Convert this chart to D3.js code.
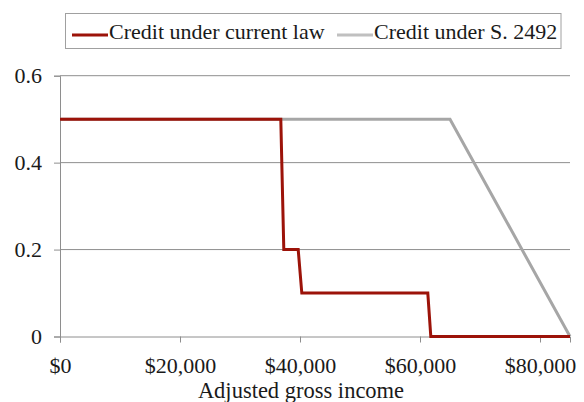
<!DOCTYPE html>
<html>
<head>
<meta charset="utf-8">
<script src="https://d3js.org/d3.v7.min.js"></script>
<style>
  body { margin: 0; background: #fff; }
  text { font-family: "Liberation Serif", "DejaVu Serif", serif; fill: #1a1a1a; }
</style>
</head>
<body>
<div id="chart"></div>
<script>
// data
var currentIncome = [0, 36800, 37300, 39700, 40300, 61300, 61800, 85000];
var currentCredit = [0.5, 0.5, 0.2, 0.2, 0.1, 0.1, 0, 0];
var billIncome = [0, 65000, 85000];
var billCredit = [0.5, 0.5, 0];
var xTicks = [0, 20000, 40000, 60000, 80000];
var yTicks = [0, 0.2, 0.4, 0.6];
var seriesNames = ["Credit under current law", "Credit under S. 2492"];

var width = 584, height = 402;
var margin = { top: 75.7, right: 14, bottom: 65.5, left: 60 };

var svg = d3.select("#chart").append("svg")
  .attr("width", width)
  .attr("height", height);

var x = d3.scaleLinear()
  .domain([0, 85000])
  .range([margin.left, width - margin.right]);

var y = d3.scaleLinear()
  .domain([0, 0.6])
  .range([height - margin.bottom, margin.top]);

// gridlines
svg.append("g")
  .selectAll("line")
  .data(yTicks.filter(function (d) { return d > 0; }))
  .enter()
  .append("line")
  .attr("x1", x(0))
  .attr("x2", x(85000))
  .attr("y1", function (d) { return y(d); })
  .attr("y2", function (d) { return y(d); })
  .attr("stroke", "#8e8e8e")
  .attr("stroke-width", 1);

// y axis
var yAxis = svg.append("g")
  .attr("transform", "translate(" + x(0) + ",0)")
  .call(d3.axisLeft(y).tickValues(yTicks).tickSize(6).tickPadding(12)
    .tickFormat(function (d) { return d === 0 ? "0" : d3.format(".1f")(d); }));
yAxis.select(".domain").attr("stroke", "#8e8e8e");
yAxis.selectAll(".tick line").attr("stroke", "#8e8e8e");
yAxis.selectAll("text").style("font-size", "22px").attr("fill", "#1a1a1a");

// x axis
var xAxis = svg.append("g")
  .attr("transform", "translate(0," + y(0) + ")")
  .call(d3.axisBottom(x).tickValues(xTicks).tickSize(6).tickPadding(15)
    .tickFormat(function (d) { return "$" + d3.format(",")(d); }));
xAxis.select(".domain").attr("stroke", "#8e8e8e");
xAxis.selectAll(".tick line").attr("stroke", "#8e8e8e");
xAxis.selectAll("text").style("font-size", "22px").attr("fill", "#1a1a1a");

svg.append("text")
  .attr("x", 301)
  .attr("y", 398)
  .attr("text-anchor", "middle")
  .style("font-size", "22.5px")
  .text("Adjusted gross income");

// lines
var line = d3.line()
  .x(function (d) { return x(d[0]); })
  .y(function (d) { return y(d[1]); });

svg.append("path")
  .datum(d3.zip(billIncome, billCredit))
  .attr("fill", "none")
  .attr("stroke", "#a6a6a6")
  .attr("stroke-width", 3)
  .attr("d", line);

svg.append("path")
  .datum(d3.zip(currentIncome, currentCredit))
  .attr("fill", "none")
  .attr("stroke", "#9c1309")
  .attr("stroke-width", 3)
  .attr("d", line);

// legend
var legend = svg.append("g");
legend.append("rect")
  .attr("x", 65.5)
  .attr("y", 13.5)
  .attr("width", 495.5)
  .attr("height", 35)
  .attr("fill", "#fff")
  .attr("stroke", "#a0a0a0");

var legendItems = [
  { name: seriesNames[0], color: "#9c1309", x: 72 },
  { name: seriesNames[1], color: "#c0c0c0", x: 337 }
];
legendItems.forEach(function (d) {
  legend.append("line")
    .attr("x1", d.x).attr("x2", d.x + 36)
    .attr("y1", 35).attr("y2", 35)
    .attr("stroke", d.color)
    .attr("stroke-width", 3);
  legend.append("text")
    .attr("x", d.x + 37)
    .attr("y", 38.5)
    .style("font-size", "22px")
    .text(d.name);
});
</script>
</body>
</html>
